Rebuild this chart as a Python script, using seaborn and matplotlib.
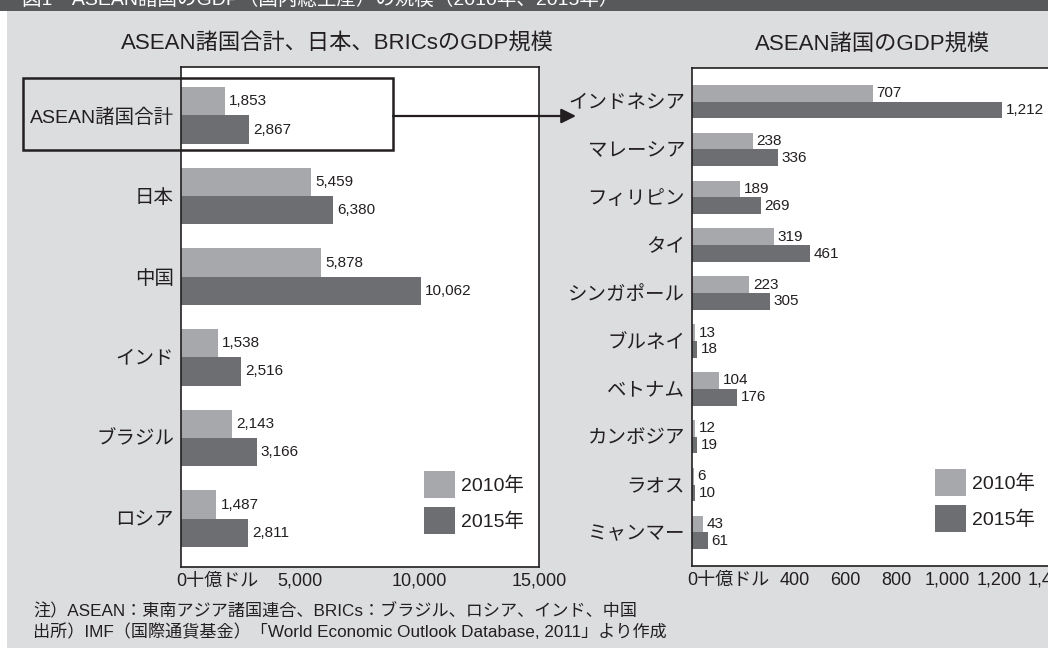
import matplotlib
matplotlib.use("Agg")
import matplotlib.pyplot as plt
import seaborn as sns
import pandas as pd
from matplotlib.patches import Rectangle, FancyArrowPatch, Patch

# ---- data (billion US$) ----
years = ["2010年", "2015年"]

groups = ["ASEAN諸国合計", "日本", "中国", "インド", "ブラジル", "ロシア"]
groups_2010 = [1853, 5459, 5878, 1538, 2143, 1487]
groups_2015 = [2867, 6380, 10062, 2516, 3166, 2811]

asean = ["インドネシア", "マレーシア", "フィリピン", "タイ", "シンガポール",
         "ブルネイ", "ベトナム", "カンボジア", "ラオス", "ミャンマー"]
asean_2010 = [707, 238, 189, 319, 223, 13, 104, 12, 6, 43]
asean_2015 = [1212, 336, 269, 461, 305, 18, 176, 19, 10, 61]

left_ticks = [0, 5000, 10000, 15000]
left_ticklabels = ["", "5,000", "10,000", "15,000"]
right_ticks = [0, 200, 400, 600, 800, 1000, 1200, 1400]
right_ticklabels = ["", "", "400", "600", "800", "1,000", "1,200", "1,400"]
unit_label = "0十億ドル"

title_left = "ASEAN諸国合計、日本、BRICsのGDP規模"
title_right = "ASEAN諸国のGDP規模"
header = "図1　ASEAN諸国のGDP（国内総生産）の規模（2010年、2015年）"
note1 = "注）ASEAN：東南アジア諸国連合、BRICs：ブラジル、ロシア、インド、中国"
note2 = "出所）IMF（国際通貨基金）「World Economic Outlook Database, 2011」より作成"

LIGHT = "#a7a8ab"
DARK = "#6d6e71"
PANEL = "#dcdddf"
HEADER = "#58595b"
INK = "#231f20"

sns.set_style("white")
plt.rcParams["font.family"] = ["Liberation Sans", "Noto Sans CJK JP", "DejaVu Sans"]

W, H = 1048, 655
fig = plt.figure(figsize=(W / 100, H / 100), dpi=100, facecolor="white")


def fx(px):
    return px / W


def fy(py):
    return 1 - py / H


# background panel and header bar
fig.add_artist(Rectangle((fx(7), fy(648)), 1 - fx(7), fy(11) - fy(648),
                         transform=fig.transFigure, facecolor=PANEL,
                         edgecolor="none", zorder=-2))
fig.add_artist(Rectangle((0, fy(11)), 1, 11 / H, transform=fig.transFigure,
                         facecolor=HEADER, edgecolor="none", zorder=-1))
fig.text(fx(22), fy(5), header, color="white", fontsize=14,
         va="baseline", ha="left")


def long_frame(cats, v10, v15):
    return pd.DataFrame({
        "cat": cats * 2,
        "value": v10 + v15,
        "year": [years[0]] * len(cats) + [years[1]] * len(cats),
    })


def draw(ax, cats, v10, v15, ticks, ticklabels, xmax, ylim):
    df = long_frame(cats, v10, v15)
    sns.barplot(data=df, y="cat", x="value", hue="year", hue_order=years,
                palette=[LIGHT, DARK], orient="h", width=0.7, saturation=1,
                linewidth=0, legend=False, ax=ax, errorbar=None)
    ax.set_facecolor("white")
    ax.set_xlim(0, xmax)
    ax.set_ylim(*ylim)
    ax.set_xlabel("")
    ax.set_ylabel("")
    for cont, vals in zip(ax.containers, [v10, v15]):
        ax.bar_label(cont, labels=[f"{v:,}" for v in vals], padding=2.8,
                     fontsize=11, color=INK)
    ax.set_xticks(ticks)
    ax.set_xticklabels(ticklabels, fontsize=13, color=INK)
    ax.tick_params(axis="x", direction="in", length=6, width=1,
                   color=INK, pad=4, top=False)
    ax.tick_params(axis="y", length=0, pad=5, labelsize=14, labelcolor=INK)
    for s in ax.spines.values():
        s.set_color(INK)
        s.set_linewidth(1.2)
    ax.annotate(unit_label, xy=(0, 0), xycoords="axes fraction",
                xytext=(-3.5, -4.2), textcoords="offset points",
                ha="left", va="top", fontsize=13, color=INK)


ax1 = fig.add_axes([fx(181), fy(567), fx(539) - fx(181), (567 - 67) / H])
draw(ax1, groups, groups_2010, groups_2015, left_ticks, left_ticklabels,
     15000, (5.6, -0.6))

ax2 = fig.add_axes([fx(692), fy(566), fx(1050) - fx(692), (566 - 68) / H])
draw(ax2, asean, asean_2010, asean_2015, right_ticks, right_ticklabels,
     1400, (9.7, -0.7))

fig.text(fx(337), fy(44), title_left, ha="center", va="center",
         fontsize=16, color=INK)
fig.text(fx(873), fy(44), title_right, ha="center", va="center",
         fontsize=16, color=INK)

# legends
handles = [Patch(facecolor=LIGHT, edgecolor="none", label=years[0]),
           Patch(facecolor=DARK, edgecolor="none", label=years[1])]
for (lx, ly) in [(424, 471), (935, 469)]:
    fig.legend(handles=handles, loc="upper left",
               bbox_to_anchor=(fx(lx), fy(ly)), bbox_transform=fig.transFigure,
               frameon=False, fontsize=14, handlelength=1.6,
               handleheight=1.72, handletextpad=0.3, labelspacing=0.5,
               borderpad=0, borderaxespad=0, labelcolor=INK)

# highlight box around the ASEAN total and arrow to the country breakdown
fig.add_artist(Rectangle((fx(23), fy(150)), fx(393) - fx(23), fy(78) - fy(150),
                         transform=fig.transFigure, facecolor="none",
                         edgecolor=INK, linewidth=1.8, zorder=5))
fig.add_artist(FancyArrowPatch((fx(393), fy(116)), (fx(576), fy(116)),
                               transform=fig.transFigure, arrowstyle="-|>",
                               mutation_scale=22, linewidth=1.6,
                               color=INK, shrinkA=0, shrinkB=0, zorder=5))

fig.text(fx(33), fy(611), note1, ha="left", va="center", fontsize=12.3,
         color=INK)
fig.text(fx(33), fy(632), note2, ha="left", va="center", fontsize=12.3,
         color=INK)

fig.savefig("out.png", dpi=100, facecolor="white")
